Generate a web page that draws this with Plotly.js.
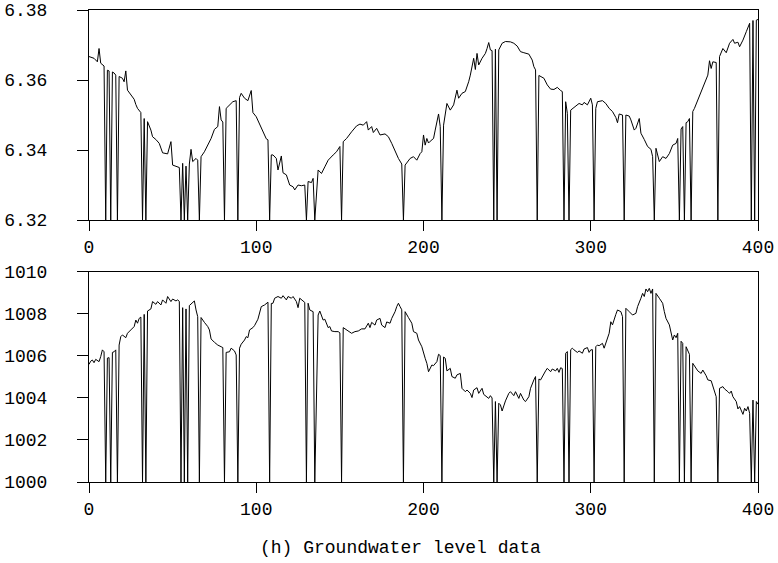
<!DOCTYPE html>
<html>
<head>
<meta charset="utf-8">
<script src="https://cdn.plot.ly/plotly-3.0.1.min.js"></script>
<style>html,body{margin:0;padding:0;background:#fff;}#chart{width:778px;height:563px;}</style>
</head>
<body>
<div id="chart"></div>
<script>
// Upper panel: sample index and level (dropouts sit at the axis floor)
const topIdx = [0,2,3,5,6,7,8,9,10,11,12,13,14,15,16,17,18,19,20,21,22,23,25,27,28,29,31,32,33,34,35,37,38,40,42,44,47,49,50,52,54,55,56,57,58,59,60,61,62,64,65,66,67,69,71,73,75,77,78,79,80,81,82,84,86,88,89,90,91,93,95,97,98,100,102,104,106,107,108,109,110,112,113,115,116,118,120,122,123,125,127,129,130,131,133,134,135,137,139,141,143,146,148,150,151,152,154,157,160,162,164,166,167,169,170,172,174,177,179,181,183,185,187,188,189,192,194,196,198,199,200,201,202,203,204,206,207,209,210,211,212,214,216,218,220,221,223,225,227,228,230,231,232,233,235,237,238,239,240,241,242,243,244,245,247,249,252,254,256,258,260,263,265,266,267,268,269,270,272,274,276,278,280,282,283,284,285,286,287,288,291,293,295,296,298,300,301,302,303,304,307,309,311,313,315,316,317,319,320,321,323,324,326,327,329,330,332,334,336,337,338,339,341,343,345,347,349,351,352,353,354,355,356,357,358,359,360,361,362,364,366,368,370,371,372,373,375,376,377,379,381,383,385,386,388,389,391,393,394,395,396,397,398,399,400];
const topLevel = [6.3667,6.3664,6.3662,6.3652,6.3690,6.3648,6.3643,6.3640,6.32,6.3628,6.3626,6.32,6.3623,6.3620,6.3614,6.32,6.3610,6.3607,6.3605,6.3595,6.3626,6.3571,6.3557,6.3545,6.3530,6.3519,6.3507,6.32,6.3490,6.32,6.3481,6.3457,6.3438,6.3430,6.3419,6.3392,6.3389,6.3424,6.3357,6.3354,6.3350,6.32,6.3362,6.32,6.3354,6.32,6.3360,6.3402,6.3367,6.3376,6.3371,6.32,6.3381,6.3395,6.3414,6.3433,6.3459,6.3467,6.3524,6.3486,6.3480,6.32,6.3519,6.3529,6.3538,6.3541,6.32,6.3550,6.3562,6.3548,6.3541,6.3570,6.3507,6.3495,6.3473,6.3452,6.3432,6.3429,6.32,6.3386,6.3386,6.3376,6.3343,6.3383,6.3335,6.3329,6.3300,6.3295,6.3286,6.3300,6.3298,6.3300,6.32,6.3310,6.3307,6.3319,6.32,6.3343,6.3333,6.3352,6.3371,6.3386,6.3395,6.3410,6.32,6.3424,6.3433,6.3452,6.3469,6.3474,6.3471,6.3481,6.3457,6.3467,6.3450,6.3462,6.3443,6.3446,6.3438,6.3419,6.3395,6.3376,6.3360,6.32,6.3357,6.3376,6.3381,6.3371,6.3390,6.3395,6.3443,6.3414,6.3433,6.3420,6.3425,6.3433,6.3457,6.3503,6.3467,6.32,6.3471,6.3533,6.3514,6.3529,6.3571,6.3548,6.3562,6.3567,6.3595,6.3614,6.3662,6.3630,6.3676,6.3643,6.3662,6.3676,6.3690,6.3707,6.3686,6.3684,6.32,6.3688,6.32,6.3686,6.3705,6.3710,6.3709,6.3705,6.3697,6.3681,6.3678,6.3674,6.3657,6.3638,6.3629,6.32,6.3613,6.3611,6.3605,6.3586,6.3574,6.3573,6.3579,6.3570,6.3567,6.32,6.3538,6.3505,6.32,6.3514,6.3524,6.3533,6.3529,6.3536,6.3529,6.3548,6.3529,6.32,6.3519,6.3538,6.3541,6.3533,6.3519,6.3510,6.3493,6.3478,6.3503,6.3500,6.32,6.3500,6.3497,6.3486,6.3457,6.3462,6.3490,6.3448,6.3430,6.3410,6.3402,6.3381,6.32,6.3405,6.3367,6.3381,6.3376,6.3390,6.3414,6.3419,6.3433,6.32,6.3460,6.3467,6.32,6.3478,6.3481,6.3490,6.32,6.3510,6.3519,6.3543,6.3567,6.3590,6.3614,6.3655,6.3633,6.3652,6.3650,6.32,6.3667,6.3690,6.3678,6.3705,6.3716,6.3705,6.3708,6.3695,6.3714,6.3738,6.3748,6.3762,6.32,6.3770,6.32,6.3771,6.3773];

// Lower panel: sample index and level
const botIdx = [0,1,2,3,4,6,7,8,9,10,11,12,13,14,15,16,17,18,19,20,22,23,25,27,28,29,30,31,32,33,34,35,37,38,40,41,43,44,46,47,49,50,52,53,54,55,56,57,58,59,60,61,63,64,65,66,67,69,71,72,73,75,77,79,80,81,82,84,85,87,88,89,90,91,93,94,95,96,98,99,101,103,105,107,108,109,110,111,113,115,116,118,119,121,122,124,125,126,128,129,130,131,132,134,135,137,138,140,141,143,144,145,147,149,150,151,152,154,156,157,159,161,163,165,167,168,169,171,172,174,175,177,178,180,181,183,184,185,186,187,188,189,191,193,194,196,197,199,201,202,203,205,206,208,209,210,211,212,213,214,216,217,219,220,222,223,225,226,228,229,230,232,233,235,236,237,239,240,241,242,243,244,245,246,247,248,249,251,252,254,255,257,258,260,261,263,264,266,267,268,269,270,271,273,274,276,277,279,280,281,282,283,284,285,286,287,288,289,290,292,293,295,296,298,299,300,301,302,303,304,305,307,308,309,311,312,313,315,316,318,319,320,321,323,325,327,328,330,331,332,333,334,335,336,337,338,339,341,343,344,345,347,348,349,350,351,352,353,354,355,356,357,359,360,361,363,364,366,367,369,370,372,373,375,376,377,379,380,382,383,384,385,387,388,389,391,392,393,394,395,396,397,398,399,400];
const botLevel = [1005.60,1005.75,1005.81,1005.68,1005.84,1005.73,1005.97,1006.29,1006.20,1000,1005.90,1005.92,1000,1006.17,1006.20,1006.29,1000,1006.52,1006.92,1007.00,1006.87,1007.08,1007.24,1007.40,1007.71,1007.56,1007.79,1007.85,1000,1007.98,1000,1008.14,1008.24,1008.59,1008.46,1008.59,1008.43,1008.67,1008.51,1008.83,1008.59,1008.71,1008.62,1008.67,1008.60,1000,1008.30,1000,1008.24,1000,1008.40,1008.46,1008.62,1008.19,1007.87,1000,1007.83,1007.60,1007.40,1007.24,1006.81,1006.65,1006.52,1006.44,1006.40,1000,1006.17,1006.20,1006.37,1006.24,1006.05,1000,1006.37,1006.56,1006.76,1006.92,1006.87,1007.24,1007.35,1007.45,1007.75,1008.35,1008.43,1008.56,1000,1008.50,1008.51,1008.75,1008.83,1008.75,1008.87,1008.67,1008.83,1008.75,1008.83,1008.59,1008.30,1008.75,1008.59,1008.55,1000,1008.51,1008.19,1008.11,1000,1007.95,1008.14,1007.71,1007.75,1007.35,1007.40,1007.19,1007.16,1007.16,1007.10,1000,1007.35,1007.24,1007.16,1007.08,1007.16,1007.19,1007.29,1007.29,1007.56,1007.35,1007.60,1007.47,1007.71,1007.79,1007.47,1007.35,1007.62,1007.56,1007.79,1008.11,1008.35,1008.51,1008.35,1008.20,1000,1008.11,1007.83,1007.56,1007.16,1007.08,1006.76,1006.44,1005.89,1005.65,1005.25,1005.57,1005.54,1005.73,1006.08,1006.02,1000,1005.95,1005.89,1005.29,1005.41,1005.02,1004.94,1005.10,1005.17,1004.46,1004.30,1004.38,1004.22,1004.02,1004.38,1004.49,1004.22,1004.46,1004.17,1004.11,1003.98,1004.11,1004.00,1000,1003.83,1000,1003.75,1003.67,1003.38,1003.62,1003.86,1004.22,1004.30,1004.11,1004.30,1003.98,1004.22,1003.90,1003.83,1004.06,1004.46,1004.86,1005.02,1000,1004.90,1004.86,1005.02,1005.29,1005.41,1005.25,1005.38,1005.29,1005.41,1005.22,1005.44,1005.40,1000,1006.13,1006.21,1000,1006.30,1006.37,1006.29,1006.17,1006.24,1006.13,1006.33,1006.40,1006.17,1006.29,1006.30,1000,1006.44,1006.52,1006.49,1006.60,1006.37,1006.60,1007.08,1007.63,1007.48,1007.98,1008.19,1008.11,1007.87,1000,1008.27,1008.11,1007.95,1008.03,1008.35,1008.75,1008.98,1008.83,1009.19,1009.06,1009.22,1008.98,1009.19,1000,1008.98,1008.75,1008.51,1008.11,1007.79,1007.48,1007.16,1006.76,1007.00,1006.87,1007.08,1000,1006.70,1006.60,1000,1006.44,1006.08,1000,1005.65,1005.41,1005.29,1005.17,1005.33,1005.06,1004.86,1004.82,1004.59,1004.06,1000,1004.46,1004.54,1004.43,1004.30,1004.22,1004.33,1004.06,1003.83,1003.48,1003.59,1003.22,1003.51,1003.38,1003.59,1003.27,1000,1003.90,1000,1003.83,1003.70];

const xTicks = [0, 100, 200, 300, 400];
const topTicks = [6.32, 6.34, 6.36, 6.38];
const botTicks = [1000, 1002, 1004, 1006, 1008, 1010];
const caption = "(h) Groundwater level data";

const FONT = "'Nimbus Mono PS', 'Nimbus Mono L', 'Courier New', Courier, 'FreeMono', 'Liberation Mono', monospace";
const lineStyle = {color: '#000', width: 1};

const traces = [
  {x: topIdx, y: topLevel, type: 'scatter', mode: 'lines', line: lineStyle, xaxis: 'x', yaxis: 'y', hoverinfo: 'skip'},
  {x: botIdx, y: botLevel, type: 'scatter', mode: 'lines', line: lineStyle, xaxis: 'x2', yaxis: 'y2', hoverinfo: 'skip'}
];

function xAxis(anchor) {
  return {
    anchor: anchor, domain: [0, 1], range: [0, 400],
    tickmode: 'array', tickvals: xTicks, ticktext: xTicks.map(String),
    ticks: 'outside', ticklen: 10, tickwidth: 1, tickcolor: '#000',
    showline: true, linecolor: '#000', linewidth: 1, mirror: true,
    showgrid: false, zeroline: false,
    tickfont: {family: FONT, size: 18, color: '#000'}
  };
}
function yAxis(anchor, dom, rng, vals, fmt) {
  return {
    anchor: anchor, domain: dom, range: rng,
    tickmode: 'array', tickvals: vals, ticktext: vals.map(v => v.toFixed(fmt)),
    ticks: 'outside', ticklen: 11, tickwidth: 1, tickcolor: '#000',
    showline: true, linecolor: '#000', linewidth: 1, mirror: true,
    showgrid: false, zeroline: false, ticklabelstandoff: 26,
    tickfont: {family: FONT, size: 18, color: '#000'}
  };
}

const layout = {
  width: 778, height: 563,
  margin: {l: 89, r: 20, t: 10, b: 81},
  paper_bgcolor: '#fff', plot_bgcolor: '#fff',
  showlegend: false,
  xaxis: xAxis('y'),
  yaxis: yAxis('x', [0.555, 1], [6.32, 6.38], topTicks, 2),
  xaxis2: xAxis('y2'),
  yaxis2: yAxis('x2', [0, 0.445], [1000, 1010], botTicks, 0),
  annotations: [{
    text: caption, xref: 'paper', yref: 'paper', x: 0.465, y: -0.14,
    xanchor: 'center', yanchor: 'middle', showarrow: false,
    font: {family: FONT, size: 18, color: '#000'}
  }]
};

Plotly.newPlot('chart', traces, layout, {displayModeBar: false, staticPlot: true});
</script>
</body>
</html>
